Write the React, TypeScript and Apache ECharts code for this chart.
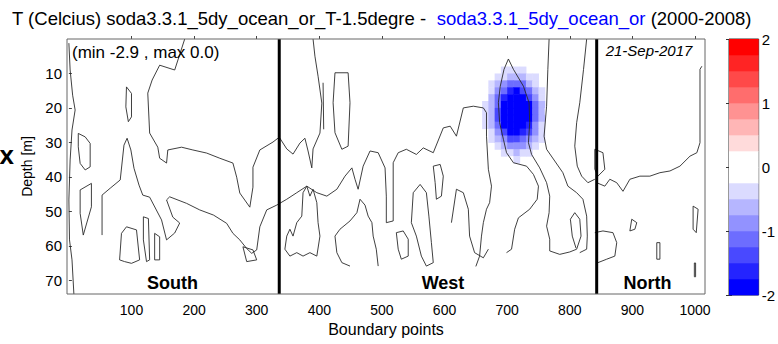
import React, { useEffect, useRef } from 'react';
import * as echarts from 'echarts';

const FONT = '"Liberation Sans", Arial, Helvetica, sans-serif';

// Axis ticks
const xTicks = [100, 200, 300, 400, 500, 600, 700, 800, 900, 1000];
const depthTicks = [10, 20, 30, 40, 50, 60, 70];
const cbTicks = [-2, -1, 0, 1, 2];

// Region boundaries (boundary point index)
const segmentBounds = [336, 843];
const regionNames = ['South', 'West', 'North'];

// Colour levels of the colour bar
const levelEdges = [-2, -1.75, -1.5, -1.25, -1, -0.75, -0.5, -0.25, 0, 0.25, 0.5, 0.75, 1, 1.25, 1.5, 1.75, 2];
const levelColors = [
  '#0000ff', '#2424ff', '#4949ff', '#6d6dff', '#9292ff', '#b6b6ff', '#dbdbff', '#ffffff',
  '#ffffff', '#ffdbdb', '#ffb6b6', '#ff9292', '#ff6d6d', '#ff4949', '#ff2424', '#ff0000',
];

// Temperature difference field (only the non-zero region around the cold anomaly)
const blobX = [665, 675, 685, 695, 705, 715, 725, 735, 745, 755, 765];
const blobDepth = [7, 9, 11, 13, 15, 17, 19, 21, 23, 25, 27, 29, 31, 33, 35];
const blobValues = [
  [0, 0, -0.08, -0.13, -0.17, -0.19, -0.17, -0.12, -0.08, 0, 0],
  [-0.04, -0.09, -0.17, -0.27, -0.35, -0.38, -0.3, -0.2, -0.15, -0.08, -0.03],
  [-0.07, -0.16, -0.31, -0.49, -0.64, -0.69, -0.61, -0.46, -0.28, -0.14, -0.06],
  [-0.12, -0.27, -0.51, -0.81, -1.05, -1.13, -1.01, -0.75, -0.46, -0.23, -0.1],
  [-0.17, -0.4, -0.76, -1.19, -1.7, -1.8, -1.49, -1.1, -0.67, -0.34, -0.14],
  [-0.23, -0.53, -1.01, -1.58, -2.06, -2.22, -1.98, -1.47, -0.9, -0.45, -0.19],
  [-0.28, -0.63, -1.21, -1.91, -2.48, -2.67, -2.39, -1.77, -1.08, -0.55, -0.23],
  [-0.3, -0.68, -1.31, -2.06, -2.68, -2.89, -2.57, -1.9, -1.16, -0.59, -0.25],
  [-0.29, -0.67, -1.27, -2.01, -2.61, -2.81, -2.51, -1.86, -1.13, -0.57, -0.24],
  [-0.26, -0.58, -1.12, -1.76, -2.29, -2.47, -2.2, -1.63, -0.99, -0.5, -0.21],
  [-0.2, -0.46, -0.88, -1.39, -1.81, -1.95, -1.75, -1.29, -0.79, -0.4, -0.17],
  [-0.14, -0.33, -0.63, -0.99, -1.29, -1.39, -1.24, -0.92, -0.56, -0.28, -0.12],
  [-0.09, -0.21, -0.4, -0.64, -0.83, -0.9, -0.8, -0.59, -0.36, -0.18, -0.08],
  [-0.05, -0.12, -0.23, -0.37, -0.48, -0.52, -0.46, -0.34, -0.21, -0.11, -0.04],
  [-0.03, -0.06, -0.12, -0.19, -0.25, -0.27, -0.24, -0.18, -0.11, -0.06, -0.02],
];

// Contour lines [boundary point, depth]
const contourSouthUpper = [[185, 0], [169, 9], [145, 7.6], [133, 11.9], [126, 15.7], [129, 27.3], [142, 31.4], [145, 34.6], [156, 36], [158, 32.2], [180, 31.4], [198, 32.2], [220, 33.1], [241, 34.6], [262, 36], [268, 40.1], [273, 44.7], [289, 48.8], [294, 43], [294, 37.2], [305, 32.2], [326, 29.9], [336, 28.5], [348, 31.9], [358, 33.4], [369, 30.2], [377, 28.8], [382, 32.5], [388, 37.4], [390, 31.9], [401, 27.3], [404, 18.6], [398, 10.8], [393, 5], [390, 0]];
const contourLong = [[53, 56.9], [53, 45.3], [66, 43.3], [82, 40.9], [88, 30.8], [93, 28.8], [99, 32.2], [104, 37.5], [112, 42.4], [118, 45.3], [129, 45.9], [148, 52.5], [156, 58.3], [169, 56.3], [177, 53.4], [166, 51.7], [156, 46.7], [161, 45.8], [188, 47.7], [209, 49.6], [231, 51.1], [252, 53.5], [262, 56.4], [273, 58.3], [284, 60.8], [292, 62.2], [300, 61.2], [305, 54.5], [316, 49.6], [332, 48.2], [348, 46.5], [364, 44.6], [380, 42.7], [396, 44.6], [412, 45.6], [428, 43.6], [441, 39.8], [452, 37.4], [457, 40.7], [462, 43.6], [470, 36.9], [481, 32.5], [494, 33], [505, 37.4], [507, 45.6], [507, 53.3], [518, 52.8], [518, 35.9], [526, 33], [539, 32], [555, 33.5], [566, 31.6], [582, 33], [598, 25.8], [609, 25.3], [619, 28.2], [630, 20], [646, 19.5], [662, 20], [667, 21.4], [667, 28.2], [670, 37.8], [675, 42.7], [672, 47.5], [667, 49.4], [662, 53.3], [659, 57.2], [656, 63], [650, 66]];
const contourAnomaly = [[699, 62], [707, 61], [712, 55.2], [718, 51.9], [736, 49.4], [748, 46.5], [750, 42.7], [742, 39.3], [731, 36.9], [710, 35.9], [699, 33], [694, 29.1], [688, 24.3], [686, 18.5], [689, 13.7], [695, 8.8], [702, 5.8], [710, 8.8], [726, 13.7], [735, 18.5], [736, 24.3], [734, 30.1], [739, 33.5], [752, 37.4], [763, 41.7], [768, 45.6], [767, 50.4], [763, 54.3], [768, 58.1], [768, 61.5], [784, 62.5], [800, 61.8], [811, 61], [818, 57.2], [816, 52.3], [808, 50.4], [801, 52.3], [804, 57.2], [810, 60.7]];
const contourWestA = [[767, 0], [765, 8.8], [763, 19.5], [759, 28.2], [763, 32], [776, 35.4], [789, 38.8], [797, 42.7], [811, 44.6], [821, 46.5], [827, 51.4], [828, 57.2], [827, 61], [816, 62]];
const contourWestB = [[827, 0], [822, 8.8], [816, 18.5], [811, 24.3], [808, 31.1], [812, 36.9], [819, 39.8], [829, 41.7], [840, 40.7]];
const contourNorth = [[843, 41.7], [856, 42.7], [864, 40.7], [875, 41.7], [885, 44.2], [896, 40.7], [912, 39.8], [928, 39.8], [944, 38.8], [960, 38.3], [976, 36.9], [992, 34], [1003, 33], [1008, 30.1], [1008, 8.8], [1011, 7.9]];
const contourNorthLoop1 = [[840, 32], [853, 33], [856, 37.8], [845, 39.8], [840, 37.8], [840, 32]];
const contourNorthLow = [[840, 56.2], [853, 55.7], [869, 56.2], [875, 59.1], [872, 63], [859, 63.9], [845, 64.9]];
const contourNorthLoop2 = [[899, 52.3], [907, 53.3], [904, 55.2], [896, 55.7], [899, 52.3]];
const contourNorthLoop3 = [[997, 48.5], [1005, 49.4], [1002, 56.2], [997, 55.2], [997, 48.5]];
const contourNorthLoop4 = [[939, 59.1], [944, 59.1], [944, 63.9], [939, 63.9], [939, 59.1]];
const contourNorthLoop5 = [[999, 65], [1001, 65], [1001, 69], [999, 69], [999, 65]];
const contourWestOval = [[425, 9.8], [446, 9.8], [449, 18.5], [446, 31.1], [436, 32], [425, 27.2], [422, 18.5], [425, 9.8]];
const contourWestBar = [[406, 12.7], [407, 26.2]];
const contourWestWedge = [[449, 65.9], [436, 64.9], [428, 62], [425, 57.2], [433, 55.2], [449, 52.8], [460, 50.4], [465, 46.5], [473, 48.2], [478, 51.4], [484, 53.3], [486, 57.2], [491, 61], [494, 65.9]];
const contourWestCluster = [[345, 61], [348, 57.2], [353, 55.2], [358, 57.2], [364, 53.3], [372, 51.4], [374, 44.6], [380, 42.7], [385, 45.6], [390, 43.6], [396, 47.5], [398, 53.3], [401, 57.2], [396, 63], [385, 62], [374, 63], [364, 62], [353, 63], [345, 61]];
const contourWestLoop1 = [[547, 53.3], [550, 44.6], [561, 42.2], [571, 44.6], [575, 51.4], [579, 59.1], [582, 64.9], [571, 65.9], [563, 63], [555, 57.2], [547, 53.3]];
const contourWestLine = [[611, 53.3], [619, 43.6], [630, 44.6], [638, 49.4], [640, 57.2], [648, 62], [662, 63.5], [670, 61]];
const contourWestLoop2 = [[523, 56.2], [534, 55.7], [542, 58.1], [542, 63], [531, 63.9], [526, 61], [523, 56.2]];
const contourWestLoop3 = [[582, 36.9], [593, 36.4], [598, 39.8], [595, 45.6], [587, 46.5], [585, 41.7], [582, 36.9]];
const contourSouthEdge = [[0, 1.2], [2, 9], [6, 16.3], [10, 20.6], [5, 26.4], [2, 35.1], [0, 46.7], [1, 58.3], [5, 64.1], [8, 74]];
const contourSouthLoop1 = [[15, 27.4], [26, 28.4], [34, 30.3], [34, 37.1], [26, 38], [18, 36.1], [15, 31.3], [15, 27.4]];
const contourSouthLoop2 = [[18, 43.8], [36, 41.9], [36, 48.7], [23, 56.9], [18, 50.6], [18, 43.8]];
const contourSouthLoop3 = [[92, 13.9], [100, 15.8], [100, 22.6], [95, 24], [91, 19.7], [92, 13.9]];
const contourSouthLoop4 = [[81, 64.1], [84, 56.4], [92, 54.5], [108, 55.4], [113, 64.1], [100, 65.1], [89, 64.6], [81, 64.1]];
const contourSouthLoop5 = [[119, 51.6], [127, 52.1], [129, 64.1], [124, 64.6], [119, 58.3], [119, 51.6]];
const contourSouthLoop6 = [[137, 56.4], [145, 57.4], [145, 64.1], [137, 64.1], [137, 56.4]];
const contourSouthLoop7 = [[278, 60.3], [294, 61.2], [300, 64.1], [284, 64.6], [278, 60.3]];

const contours = [
  contourSouthUpper, contourLong, contourAnomaly, contourWestA, contourWestB, contourNorth,
  contourNorthLoop1, contourNorthLow, contourNorthLoop2, contourNorthLoop3, contourNorthLoop4, contourNorthLoop5,
  contourWestOval, contourWestBar, contourWestWedge, contourWestCluster, contourWestLoop1, contourWestLine,
  contourWestLoop2, contourWestLoop3, contourSouthEdge, contourSouthLoop1, contourSouthLoop2, contourSouthLoop3,
  contourSouthLoop4, contourSouthLoop5, contourSouthLoop6, contourSouthLoop7,
];

function colorFor(v: number): string {
  if (v <= levelEdges[0]) return levelColors[0];
  for (let i = 0; i < levelColors.length; i++) {
    if (v >= levelEdges[i] && v < levelEdges[i + 1]) return levelColors[i];
  }
  return levelColors[levelColors.length - 1];
}

export default function App() {
  const ref = useRef<HTMLDivElement>(null);

  useEffect(() => {
    if (!ref.current) return;
    const chart = echarts.init(ref.current, null, { renderer: 'svg' });

    const cellHalfX = (blobX[1] - blobX[0]) / 2;
    const cellHalfD = (blobDepth[1] - blobDepth[0]) / 2;
    const fieldData: number[][] = [];
    blobDepth.forEach((d, r) => {
      blobX.forEach((x, c) => {
        const v = blobValues[r][c];
        if (v <= -0.25) fieldData.push([x, d, v]);
      });
    });

    const colorbarData = levelColors.map((_, i) => [levelEdges[i], levelEdges[i + 1], i]);

    const contourSeries = contours.map((pts) => ({
      type: 'line',
      xAxisIndex: 0,
      yAxisIndex: 0,
      data: pts,
      showSymbol: false,
      symbol: 'none',
      silent: true,
      clip: true,
      z: 3,
      lineStyle: { color: '#2a2a2a', width: 0.9 },
    }));

    const boundarySeries = segmentBounds.map((b) => ({
      type: 'line',
      xAxisIndex: 0,
      yAxisIndex: 0,
      data: [[b, 0], [b, 74]],
      showSymbol: false,
      symbol: 'none',
      silent: true,
      z: 5,
      lineStyle: { color: '#000', width: 3 },
    }));

    const labelStyle = (x: number, text: string) => ({
      type: 'text',
      x,
      y: 283,
      z: 10,
      style: {
        text,
        font: `bold 18px ${FONT}`,
        fill: '#000',
        textAlign: 'center',
        textVerticalAlign: 'middle',
      },
    });

    const option: any = {
      animation: false,
      backgroundColor: '#ffffff',
      textStyle: { fontFamily: FONT },
      grid: [
        { left: 67, top: 39, width: 638, height: 255, show: true, borderColor: '#666', borderWidth: 1, backgroundColor: 'transparent', z: 6 },
        { left: 729, top: 39, width: 33, height: 256, show: true, borderColor: '#333', borderWidth: 1, backgroundColor: 'transparent' },
      ],
      xAxis: [
        {
          gridIndex: 0, type: 'value', min: -3, max: 1016,
          axisLine: { show: false },
          splitLine: { show: false },
          axisTick: { show: true, inside: true, length: 3, customValues: xTicks, lineStyle: { color: '#444' } },
          axisLabel: { customValues: xTicks, fontSize: 14, color: '#000', margin: 9, fontFamily: FONT, formatter: (v: number) => String(v) },
          name: 'Boundary points', nameLocation: 'middle', nameGap: 25,
          nameTextStyle: { fontSize: 16, color: '#000', fontFamily: FONT },
        },
        { gridIndex: 1, type: 'value', min: 0, max: 1, show: false },
      ],
      yAxis: [
        {
          gridIndex: 0, type: 'value', inverse: true, min: 0, max: 74,
          axisLine: { show: false },
          splitLine: { show: false },
          axisTick: { show: true, inside: true, length: 3, customValues: depthTicks, lineStyle: { color: '#444' } },
          axisLabel: { customValues: depthTicks, fontSize: 15, color: '#000', margin: 5, fontFamily: FONT },
          name: 'Depth [m]', nameLocation: 'middle', nameGap: 31, nameRotate: 90,
          nameTextStyle: { fontSize: 14, color: '#000', fontFamily: FONT },
        },
        {
          gridIndex: 1, type: 'value', min: -2, max: 2, interval: 1, position: 'right',
          axisLine: { show: false },
          splitLine: { show: false },
          axisTick: { show: true, inside: true, length: 3, lineStyle: { color: '#333' } },
          axisLabel: { fontSize: 15, color: '#000', margin: 3, fontFamily: FONT, customValues: cbTicks },
        },
        {
          gridIndex: 1, type: 'value', min: -2, max: 2, interval: 1, position: 'left',
          axisLine: { show: false },
          splitLine: { show: false },
          axisTick: { show: true, inside: true, length: 3, lineStyle: { color: '#333' } },
          axisLabel: { show: false },
        },
      ],
      series: [
        {
          type: 'custom',
          xAxisIndex: 0,
          yAxisIndex: 0,
          data: fieldData,
          silent: true,
          clip: true,
          z: 1,
          renderItem: (params: any, api: any) => {
            const x = api.value(0);
            const d = api.value(1);
            const v = api.value(2);
            const p1 = api.coord([x - cellHalfX, d - cellHalfD]);
            const p2 = api.coord([x + cellHalfX, d + cellHalfD]);
            return {
              type: 'rect',
              shape: {
                x: Math.min(p1[0], p2[0]),
                y: Math.min(p1[1], p2[1]),
                width: Math.abs(p2[0] - p1[0]) + 0.5,
                height: Math.abs(p2[1] - p1[1]) + 0.5,
              },
              style: { fill: colorFor(v) },
            };
          },
        },
        ...contourSeries,
        ...boundarySeries,
        {
          type: 'custom',
          xAxisIndex: 1,
          yAxisIndex: 1,
          data: colorbarData,
          silent: true,
          z: 1,
          renderItem: (params: any, api: any) => {
            const lo = api.value(0);
            const hi = api.value(1);
            const idx = api.value(2);
            const p1 = api.coord([0, hi]);
            const p2 = api.coord([1, lo]);
            return {
              type: 'rect',
              shape: { x: p1[0], y: p1[1], width: p2[0] - p1[0], height: p2[1] - p1[1] + 0.3 },
              style: { fill: levelColors[idx] },
            };
          },
        },
      ],
      graphic: [
        {
          type: 'text',
          x: 12,
          y: 18.5,
          z: 10,
          style: {
            text: '{a|T (Celcius) soda3.3.1_5dy_ocean_or_T-1.5degre -  }{b|soda3.3.1_5dy_ocean_or}{a| (2000-2008)}',
            textVerticalAlign: 'middle',
            rich: {
              a: { fill: '#000', fontSize: 18.5, fontFamily: FONT },
              b: { fill: '#0000ff', fontSize: 18.5, fontFamily: FONT },
            },
          },
        },
        {
          type: 'text',
          x: 72,
          y: 52,
          z: 10,
          style: { text: '(min -2.9 , max 0.0)', font: `17px ${FONT}`, fill: '#000', textVerticalAlign: 'middle' },
        },
        {
          type: 'text',
          x: 649,
          y: 50,
          z: 10,
          style: { text: '21-Sep-2017', font: `italic 15px ${FONT}`, fill: '#000', textAlign: 'center', textVerticalAlign: 'middle' },
        },
        labelStyle(172.5, regionNames[0]),
        labelStyle(443, regionNames[1]),
        labelStyle(647.5, regionNames[2]),
        {
          type: 'text',
          x: -0.5,
          y: 155,
          z: 10,
          style: { text: 'x', font: `bold 26px ${FONT}`, fill: '#000', textVerticalAlign: 'middle' },
        },
      ],
    };

    chart.setOption(option);
    return () => chart.dispose();
  }, []);

  return <div ref={ref} style={{ position: 'fixed', left: 0, top: 0, width: 778, height: 344, background: '#fff' }} />;
}
